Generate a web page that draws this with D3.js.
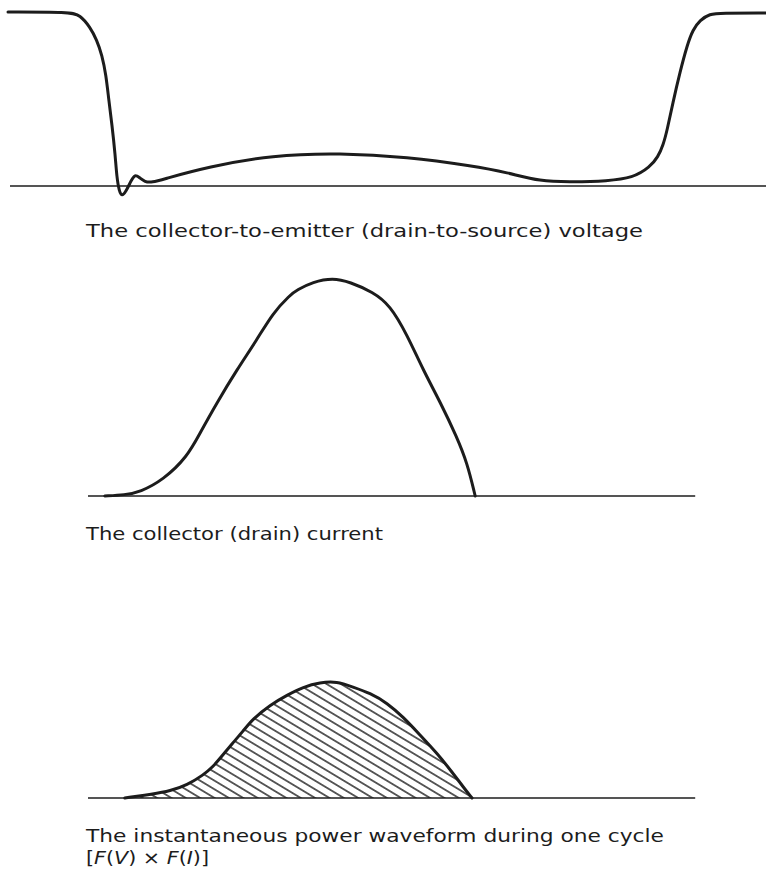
<!DOCTYPE html>
<html>
<head>
<meta charset="utf-8">
<script src="https://cdn.jsdelivr.net/npm/d3@7/dist/d3.min.js"></script>
<style>
  html, body { margin: 0; padding: 0; background: #fff; }
  svg { display: block; }
  text { font-family: "DejaVu Sans", Lato, sans-serif; fill: #1c1c1c; }
</style>
</head>
<body>
<svg id="chart" width="766" height="869"></svg>
<script>
// Time axis, arbitrary units across one switching cycle
const timeDomain = [0, 95.75];

// Collector-to-emitter (drain-to-source) voltage, % of supply
const voltageTime  = [1, 8.75, 10, 11.25, 12.1, 12.75, 13.25, 13.6, 14, 14.4, 14.6, 14.9, 15.25, 15.75, 16.25, 16.8, 17.4, 18.1, 19, 20.5, 25.9, 34.1, 42.5, 50.9, 59.1, 63.4, 67.5, 71.6, 75.9, 79.1, 81.25, 82.25, 82.9, 83.4, 84.1, 85, 85.9, 86.6, 87.5, 88.75, 90, 95.75];
const voltageValue = [100, 100, 98.3, 91.4, 83.9, 75.3, 63.8, 49.4, 35.1, 17.8, 5.0, -3.0, -6.0, -3.0, 1.7, 6.8, 5.0, 2.3, 2.0, 4.0, 10.9, 17.8, 19.0, 16.7, 11.5, 7.8, 2.6, 2.3, 2.9, 4.6, 10.9, 16.7, 23.6, 32.2, 47.7, 65.5, 81.0, 89.7, 95.4, 98.9, 99.4, 99.4];
const voltageAxisSpan = [1.25, 95.75];

// Collector (drain) current, % of peak
const currentTime  = [13.1, 15.6, 17.5, 20.4, 23.4, 25, 27.1, 29.6, 32.1, 34.1, 36.25, 37.1, 39.1, 41.6, 43.75, 46.6, 48.75, 50.9, 52.9, 55, 57.1, 58.4, 59.4];
const currentValue = [0, 0.5, 1.8, 7.4, 18.0, 29.0, 42.9, 58.1, 71.9, 84.3, 92.6, 94.9, 98.6, 100.5, 98.6, 94.0, 88.0, 74.2, 58.0, 43.5, 27.2, 15.2, 0];
const currentAxisSpan = [11, 86.9];

// Instantaneous power F(V) x F(I), % of peak
const powerTime  = [15.6, 19.1, 21.25, 23.4, 25.4, 26.6, 27.75, 29, 30.4, 31.6, 33.75, 35.9, 37.9, 40, 42.1, 44.1, 46.25, 48.4, 50.4, 52.5, 54.6, 56.6, 57.9, 59];
const powerValue = [0, 3.4, 6.0, 11.2, 19.8, 26.7, 36.2, 46.6, 57.8, 68.1, 80.2, 88.8, 95.7, 99.6, 100.5, 95.7, 90.5, 81.9, 69.8, 54.3, 38.8, 21.6, 9.5, 0];
const powerAxisSpan = [11, 86.9];

// Captions
const captionVoltage = "The collector-to-emitter (drain-to-source) voltage";
const captionCurrent = "The collector (drain) current";
const captionPower   = "The instantaneous power waveform during one cycle";
const captionPowerFormula = [
  { t: "[", i: false }, { t: "F", i: true }, { t: "(", i: false }, { t: "V", i: true },
  { t: ")  \u00d7  ", i: false }, { t: "F", i: true }, { t: "(", i: false }, { t: "I", i: true },
  { t: ")]", i: false }
];

const ink = "#1c1c1c";
const svg = d3.select("#chart");
const W = 766;

const x = d3.scaleLinear().domain(timeDomain).range([0, W]);
const yV = d3.scaleLinear().domain([0, 100]).range([186, 12]);
const yI = d3.scaleLinear().domain([0, 100]).range([496, 279]);
const yP = d3.scaleLinear().domain([0, 100]).range([798, 682]);

const zipPts = (ts, vs) => ts.map((t, k) => ({ t, v: vs[k] }));
const curve = d3.curveBasis;

function baseline(span, y) {
  svg.append("line")
    .attr("x1", x(span[0])).attr("x2", x(span[1]))
    .attr("y1", y(0)).attr("y2", y(0))
    .attr("stroke", ink).attr("stroke-width", 1.6);
}

function trace(pts, y) {
  const line = d3.line().x(d => x(d.t)).y(d => y(d.v)).curve(curve);
  svg.append("path").datum(pts)
    .attr("d", line)
    .attr("fill", "none")
    .attr("stroke", ink)
    .attr("stroke-width", 3)
    .attr("stroke-linejoin", "round")
    .attr("stroke-linecap", "round");
}

// Hatch for the dissipated-energy area
const defs = svg.append("defs");
const pat = defs.append("pattern")
  .attr("id", "hatch")
  .attr("patternUnits", "userSpaceOnUse")
  .attr("width", 7.4).attr("height", 7.4)
  .attr("patternTransform", "rotate(31)");
pat.append("line")
  .attr("x1", 0).attr("x2", 7.4)
  .attr("y1", 3.7).attr("y2", 3.7)
  .attr("stroke", ink).attr("stroke-width", 1.4);

// Voltage panel
const vPts = zipPts(voltageTime, voltageValue);
baseline(voltageAxisSpan, yV);
trace(vPts, yV);

// Current panel
const iPts = zipPts(currentTime, currentValue);
baseline(currentAxisSpan, yI);
trace(iPts, yI);

// Power panel
const pPts = zipPts(powerTime, powerValue);
const area = d3.area().x(d => x(d.t)).y0(yP(0)).y1(d => yP(d.v)).curve(curve);
svg.append("path").datum(pPts)
  .attr("d", area)
  .attr("fill", "url(#hatch)");
baseline(powerAxisSpan, yP);
trace(pPts, yP);

// Captions
function caption(str, yPos, width) {
  return svg.append("text")
    .attr("x", 86).attr("y", yPos)
    .attr("font-size", 17)
    .attr("textLength", width)
    .attr("lengthAdjust", "spacingAndGlyphs")
    .text(str);
}
caption(captionVoltage, 237, 557);
caption(captionCurrent, 540, 297);
caption(captionPower, 842, 578);

const formula = svg.append("text")
  .attr("x", 86).attr("y", 864)
  .attr("font-size", 17)
  .attr("textLength", 123)
  .attr("lengthAdjust", "spacingAndGlyphs");
formula.selectAll("tspan").data(captionPowerFormula).join("tspan")
  .attr("font-style", d => d.i ? "italic" : "normal")
  .text(d => d.t);
</script>
</body>
</html>
